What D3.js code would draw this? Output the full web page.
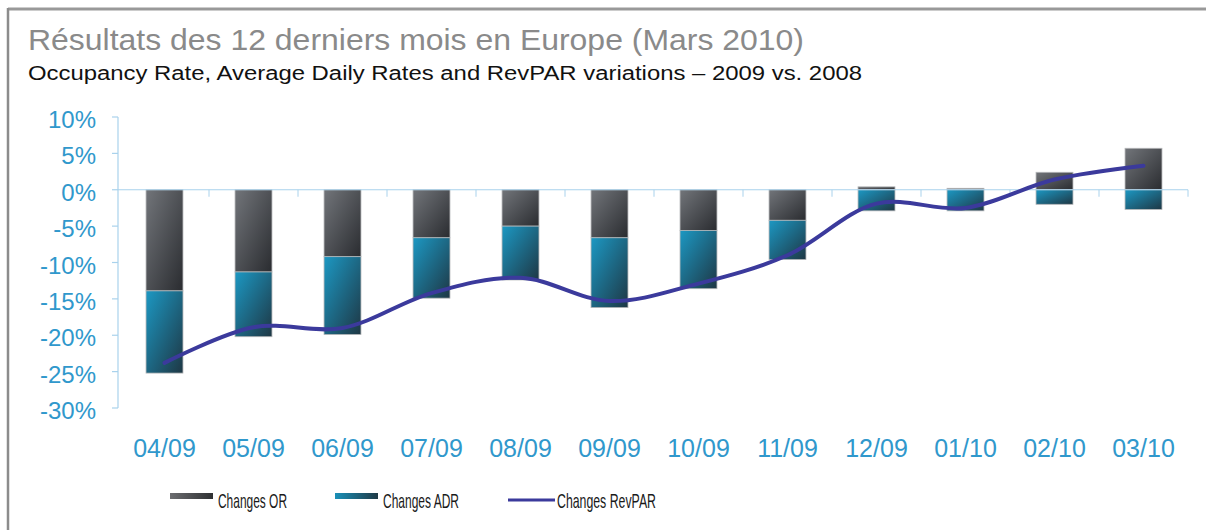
<!DOCTYPE html>
<html>
<head>
    <meta charset="utf-8">
    <title>Résultats des 12 derniers mois en Europe</title>
    <script type="text/javascript" src="https://cdn.jsdelivr.net/npm/d3@7"></script>
    <style>
        body { margin: 0; background: #fff; }
        svg { display: block; font-family: "Liberation Sans", Arial, Helvetica, sans-serif; }
    </style>
</head>
<body>
<script type="text/javascript">
    // data (percent change, 2009 vs 2008)
    var months = ['04/09', '05/09', '06/09', '07/09', '08/09', '09/09',
                  '10/09', '11/09', '12/09', '01/10', '02/10', '03/10'];
    var changesOR  = [-13.9, -11.3, -9.2, -6.6, -5.0, -6.6, -5.6, -4.2, 0.4, 0.2, 2.4, 5.7];
    var changesADR = [-11.3, -8.9, -10.7, -8.3, -7.4, -9.6, -8.0, -5.4, -2.9, -2.9, -2.0, -2.7];
    var changesRevPAR = [-23.8, -18.9, -19.0, -14.2, -12.1, -15.3, -12.9, -9.0, -1.9, -2.5, 1.4, 3.3];
    var yTicks = [10, 5, 0, -5, -10, -15, -20, -25, -30];
    var seriesNames = ['Changes OR', 'Changes ADR', 'Changes RevPAR'];

    var width = 1206, height = 530;
    var margins = { left: 118, top: 117, right: 18, bottom: 122 };
    var axisColor = '#a9d2ec', labelColor = '#3098cc';

    var svg = d3.select('body').append('svg')
        .attr('width', width)
        .attr('height', height);

    var defs = svg.append('defs');
    function gradient(id, from, to, x2, y2) {
        var g = defs.append('linearGradient').attr('id', id)
            .attr('x1', 0).attr('y1', 0).attr('x2', x2).attr('y2', y2);
        g.append('stop').attr('offset', '0%').attr('stop-color', from);
        g.append('stop').attr('offset', '100%').attr('stop-color', to);
    }
    gradient('gOR', '#72757a', '#2a2c30', 1, 1);
    gradient('gADR', '#1c98c3', '#1e3744', 1, 1);
    gradient('lOR', '#6c6d70', '#2e3033', 1, 0);
    gradient('lADR', '#1a90b8', '#1f3a46', 1, 0);

    // frame
    svg.append('line').attr('x1', 8).attr('x2', width).attr('y1', 9).attr('y2', 9)
        .style('stroke', '#999').style('stroke-width', 3);
    svg.append('line').attr('x1', 8).attr('x2', 8).attr('y1', 8).attr('y2', height)
        .style('stroke', '#8c8c8c').style('stroke-width', 2.5);

    // titles
    svg.append('text').attr('x', 28).attr('y', 50)
        .attr('textLength', 776).attr('lengthAdjust', 'spacingAndGlyphs')
        .style('font-size', '29px').style('fill', '#8a8a8a')
        .text('Résultats des 12 derniers mois en Europe (Mars 2010)');
    svg.append('text').attr('x', 28).attr('y', 80)
        .attr('textLength', 834).attr('lengthAdjust', 'spacingAndGlyphs')
        .style('font-size', '20px').style('fill', '#111')
        .text('Occupancy Rate, Average Daily Rates and RevPAR variations \u2013 2009 vs. 2008');

    var x = d3.scaleBand().domain(months)
        .range([120, 1188]).paddingInner(0.585).paddingOuter(0.2925);
    var y = d3.scaleLinear().domain([-30, 10]).range([408, 117]);

    // y axis
    var yAxis = svg.append('g').attr('class', 'y-axis');
    yAxis.append('line').attr('x1', margins.left).attr('x2', margins.left)
        .attr('y1', y(10)).attr('y2', y(-30))
        .style('stroke', axisColor).style('stroke-width', 1.2);
    yAxis.selectAll('line.tick').data(yTicks).enter().append('line')
        .attr('class', 'tick')
        .attr('x1', margins.left - 6).attr('x2', margins.left)
        .attr('y1', function (d) { return y(d); }).attr('y2', function (d) { return y(d); })
        .style('stroke', axisColor).style('stroke-width', 1.2);
    yAxis.selectAll('text').data(yTicks).enter().append('text')
        .attr('x', 96).attr('y', function (d) { return y(d) + 11; })
        .attr('text-anchor', 'end')
        .style('font-size', '24px').style('fill', labelColor)
        .text(function (d) { return d + '%'; });

    // stacked bars (OR first, ADR stacked after, diverging around zero)
    var rows = months.map(function (m, i) {
        return { month: m, OR: changesOR[i], ADR: changesADR[i] };
    });
    var stacked = d3.stack().keys(['OR', 'ADR'])
        .offset(d3.stackOffsetDiverging)(rows);

    svg.selectAll('g.layer').data(stacked).enter().append('g')
        .attr('class', 'layer')
        .style('fill', function (d) { return 'url(#g' + d.key + ')'; })
        .selectAll('rect').data(function (d) { return d; }).enter().append('rect')
        .attr('x', function (d) { return x(d.data.month); })
        .attr('width', x.bandwidth())
        .attr('y', function (d) { return y(Math.max(d[0], d[1])); })
        .attr('height', function (d) { return Math.abs(y(d[0]) - y(d[1])); })
        .style('stroke', '#b4b6b8').style('stroke-width', 0.8);

    // x axis at zero
    var xAxis = svg.append('g').attr('class', 'x-axis');
    xAxis.append('line').attr('x1', margins.left).attr('x2', 1188)
        .attr('y1', y(0)).attr('y2', y(0))
        .style('stroke', axisColor).style('stroke-width', 1.2);
    xAxis.selectAll('line.tick').data(months).enter().append('line')
        .attr('class', 'tick')
        .attr('x1', function (d) { return x(d) + x.bandwidth() / 2 + x.step() / 2; })
        .attr('x2', function (d) { return x(d) + x.bandwidth() / 2 + x.step() / 2; })
        .attr('y1', y(0)).attr('y2', y(0) + 7)
        .style('stroke', axisColor).style('stroke-width', 1);
    xAxis.selectAll('text').data(months).enter().append('text')
        .attr('x', function (d) { return x(d) + x.bandwidth() / 2; })
        .attr('y', 457)
        .attr('text-anchor', 'middle')
        .style('font-size', '25px').style('fill', labelColor)
        .text(function (d) { return d; });

    // RevPAR line
    var line = d3.line()
        .x(function (d, i) { return x(months[i]) + x.bandwidth() / 2; })
        .y(function (d) { return y(d); })
        .curve(d3.curveCatmullRom.alpha(0.5));
    svg.append('path').datum(changesRevPAR)
        .attr('d', line)
        .style('fill', 'none').style('stroke', '#3b3a9c')
        .style('stroke-width', 4).style('stroke-linecap', 'round');

    // legend
    var legendX = [170, 335, 508], legendLen = [69, 76, 99];
    var legend = svg.append('g').attr('class', 'legend');
    legend.append('rect').attr('x', legendX[0]).attr('y', 493).attr('width', 43).attr('height', 6)
        .style('fill', 'url(#lOR)');
    legend.append('rect').attr('x', legendX[1]).attr('y', 493).attr('width', 43).attr('height', 6)
        .style('fill', 'url(#lADR)');
    legend.append('line').attr('x1', legendX[2]).attr('x2', legendX[2] + 47)
        .attr('y1', 500).attr('y2', 500)
        .style('stroke', '#3b3a9c').style('stroke-width', 3);
    legend.selectAll('text').data(seriesNames).enter().append('text')
        .attr('x', function (d, i) { return legendX[i] + (i < 2 ? 48 : 49); })
        .attr('y', 508)
        .attr('textLength', function (d, i) { return legendLen[i]; })
        .attr('lengthAdjust', 'spacingAndGlyphs')
        .style('font-size', '21px').style('fill', '#1a1a1a')
        .text(function (d) { return d; });
</script>
</body>
</html>
